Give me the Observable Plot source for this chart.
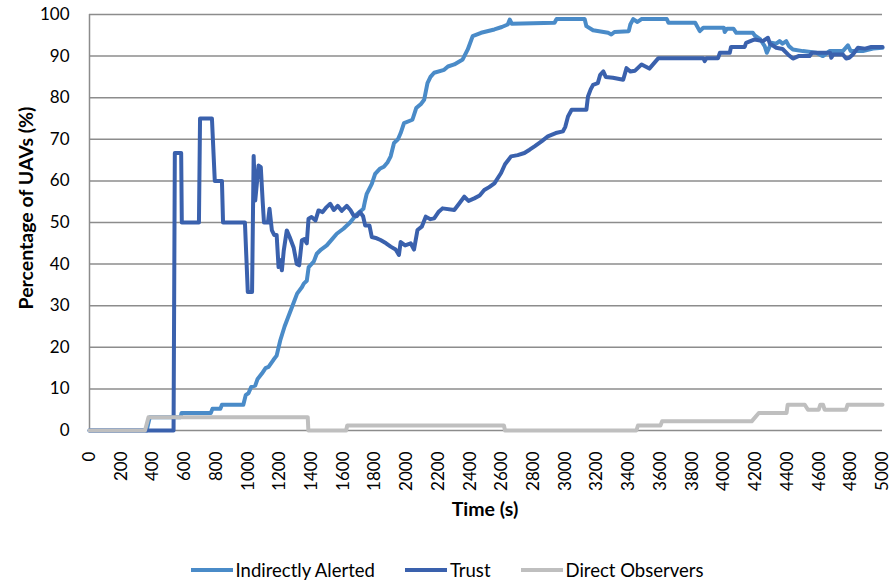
<!DOCTYPE html>
<html>
<head>
<meta charset="utf-8">
<script src="https://cdn.jsdelivr.net/npm/d3@7"></script>
<script src="https://cdn.jsdelivr.net/npm/@observablehq/plot@0.6"></script>
<style>
  html, body { margin: 0; padding: 0; background: #fff; }
  #chart { width: 891px; font-family: Lato, "Open Sans", sans-serif; }
  .legend { display: flex; justify-content: center; align-items: center; height: 43px; padding-top: 8px; font-size: 18.5px; color: #000; padding-left: 3px; }
  .legend .item { display: flex; align-items: center; margin: 0 15px; }
  .legend .swatch { width: 42px; height: 4px; margin-right: 3px; }
</style>
</head>
<body>
<div id="chart"></div>
<script>
// ---- data ----
const seriesNames = ["Indirectly Alerted", "Trust", "Direct Observers"];
const seriesColors = ["#4a8bc8", "#3a61ad", "#bfbfbf"];

const iaTime = [0,360,380,575,580,765,775,825,835,970,985,1003,1020,1045,1060,1087,1110,1129,1160,1180,1203,1230,1245,1277,1309,1340,1351,1370,1382,1414,1433,1460,1496,1530,1559,1601,1643,1685,1727,1738,1748,1780,1801,1830,1856,1880,1899,1920,1945,1962,1983,2036,2060,2090,2110,2131,2150,2173,2236,2260,2300,2353,2385,2416,2469,2553,2600,2637,2650,2662,2932,2945,3122,3133,3175,3270,3290,3310,3400,3410,3428,3455,3480,3640,3651,3819,3848,3870,4000,4005,4020,4060,4078,4183,4194,4230,4257,4271,4299,4330,4351,4370,4393,4410,4435,4498,4582,4624,4666,4750,4782,4800,4876,4940,5000];
const iaValue = [0,0,3.2,3.2,4.2,4.2,5.2,5.2,6.2,6.2,8.5,9,10.5,10.8,12.4,13.7,15,15.3,17,18,21.7,25,26.5,29.7,32.9,34.5,35.3,36,39.3,40.6,42.5,43.5,44.5,46,47.3,48.5,50,52,53.3,55.3,56.9,59.3,61.7,62.9,63.4,64.5,65.9,69.1,70,71.5,73.9,74.7,77.5,78.5,79.5,83.5,85,86,86.7,87.5,88,89.2,91.6,94.8,95.6,96.4,97,97.6,98.8,97.8,98,98.9,98.9,97.2,96.2,95.6,95.2,95.8,96,97.6,98.9,98.2,98.9,98.9,98,98,96,96.8,96.8,95.8,96.6,96.6,95.6,95.6,95,94,92.4,90.8,93.2,93,93.6,93,93.6,92.4,91.6,91.2,90.8,90,91.2,91.2,92.6,91.2,91.2,91.8,92];

const trustTime = [0,530,538,578,582,690,697,772,790,835,842,980,998,1025,1035,1045,1066,1080,1092,1100,1125,1135,1150,1165,1180,1192,1200,1213,1225,1244,1262,1287,1307,1322,1339,1355,1370,1381,1400,1425,1444,1470,1495,1518,1540,1565,1590,1622,1645,1665,1685,1706,1725,1738,1765,1780,1811,1835,1870,1899,1930,1951,1962,1990,2025,2046,2068,2095,2120,2150,2173,2200,2226,2300,2330,2363,2390,2426,2460,2489,2520,2553,2595,2620,2658,2700,2742,2775,2806,2850,2890,2940,2985,3000,3017,3040,3133,3143,3160,3175,3205,3220,3240,3255,3300,3365,3386,3410,3440,3481,3530,3587,3870,3879,3890,3963,3975,4037,4045,4131,4140,4194,4246,4278,4290,4330,4370,4404,4435,4470,4540,4555,4670,4677,4690,4750,4771,4790,4813,4845,4890,4929,5000];
const trustValue = [0,0,66.7,66.7,50,50,75,75,60,60,50,50,33.3,33.3,66,55.3,63.7,63.3,55,50,50,53.3,48.1,47,47,39.3,41,38.5,43.3,48.1,46.5,44,40,39.7,45.7,46,45,50.9,51.3,50.5,52.9,52.5,53.7,54.5,53,54,52.8,54,53,51.7,51.5,52.5,51.5,49.3,49.3,46.5,46.2,45.8,45,44.2,43.5,42.2,45.3,44.5,45,43.5,48.2,49,51.4,50.8,51,52.5,53.4,53,54.5,56.2,55.2,55.8,56.5,57.8,58.5,59.4,61.9,64,65.9,66.2,66.7,67.5,68.3,69.5,70.7,71.5,71.9,73,75.5,77.1,77.1,80.3,82,83.1,83.5,85.5,86.3,85,84.8,84.3,87.1,86.3,86.5,88,87,89.5,89.5,88.8,89.5,89.5,90.8,90.8,92.2,92.2,93.2,94,93.6,94.4,93,92,91.7,90.4,89.4,90,90,90.8,90.8,89.6,90.4,90.4,89.4,89.6,90.4,92,91.8,92.2,92.2];

const doTime = [0,350,372,1376,1380,1618,1625,2613,2620,3448,3458,3600,3610,4175,4220,4395,4402,4510,4530,4598,4608,4625,4635,4770,4780,5000];
const doValue = [0,0,3.2,3.2,0,0,1.2,1.2,0,0,1.2,1.2,2.2,2.2,4.2,4.2,6.2,6.2,5,5,6.2,6.2,5,5,6.2,6.2];

const xTicks = d3.range(0, 5001, 200);
const yTicks = d3.range(0, 101, 10);
const xTitle = "Time (s)";
const yTitle = "Percentage of UAVs (%)";

// ---- build tables ----
const toRows = (ts, vs) => ts.map((t, i) => ({t, v: vs[i]}));
const iaRows = toRows(iaTime, iaValue);
const trustRows = toRows(trustTime, trustValue);
const doRows = toRows(doTime, doValue);

const plot = Plot.plot({
  width: 891,
  height: 540,
  marginLeft: 89,
  marginRight: 9,
  marginTop: 14,
  marginBottom: 110,
  style: {fontFamily: "Lato, 'Open Sans', sans-serif", fontSize: "17px", color: "#000", background: "#fff"},
  x: {domain: [0, 5000]},
  y: {domain: [0, 100]},
  marks: [
    Plot.gridY(yTicks, {stroke: "#8c8c8c", strokeOpacity: 1, strokeWidth: 1.5}),
    Plot.ruleX([0], {stroke: "#8c8c8c", strokeWidth: 1.5}),
    Plot.axisY(yTicks, {tickSize: 0, tickPadding: 20, label: null, fontSize: 17}),
    Plot.axisX(xTicks, {tickSize: 0, tickRotate: -90, tickPadding: 21, tickFormat: d3.format("d"), label: null, fontSize: 17}),
    Plot.line(iaRows, {x: "t", y: "v", stroke: seriesColors[0], strokeWidth: 4, strokeLinejoin: "round"}),
    Plot.line(trustRows, {x: "t", y: "v", stroke: seriesColors[1], strokeWidth: 4, strokeLinejoin: "round"}),
    Plot.line(doRows, {x: "t", y: "v", stroke: seriesColors[2], strokeWidth: 4, strokeLinejoin: "round"})
  ]
});

const svg = d3.select(plot);
svg.append("text")
  .attr("transform", "translate(25,208) rotate(-90)")
  .attr("text-anchor", "middle")
  .attr("dominant-baseline", "central")
  .attr("font-weight", "bold")
  .attr("font-size", 19.5)
  .attr("fill", "#000")
  .text(yTitle);
svg.append("text")
  .attr("x", 485)
  .attr("y", 508)
  .attr("text-anchor", "middle")
  .attr("dominant-baseline", "central")
  .attr("font-weight", "bold")
  .attr("font-size", 19.5)
  .attr("fill", "#000")
  .text(xTitle);

const container = document.getElementById("chart");
container.appendChild(plot);

const legend = document.createElement("div");
legend.className = "legend";
seriesNames.forEach((name, i) => {
  const item = document.createElement("div");
  item.className = "item";
  const sw = document.createElement("span");
  sw.className = "swatch";
  sw.style.background = seriesColors[i];
  const label = document.createElement("span");
  label.textContent = name;
  item.appendChild(sw);
  item.appendChild(label);
  legend.appendChild(item);
});
container.appendChild(legend);
</script>
</body>
</html>
